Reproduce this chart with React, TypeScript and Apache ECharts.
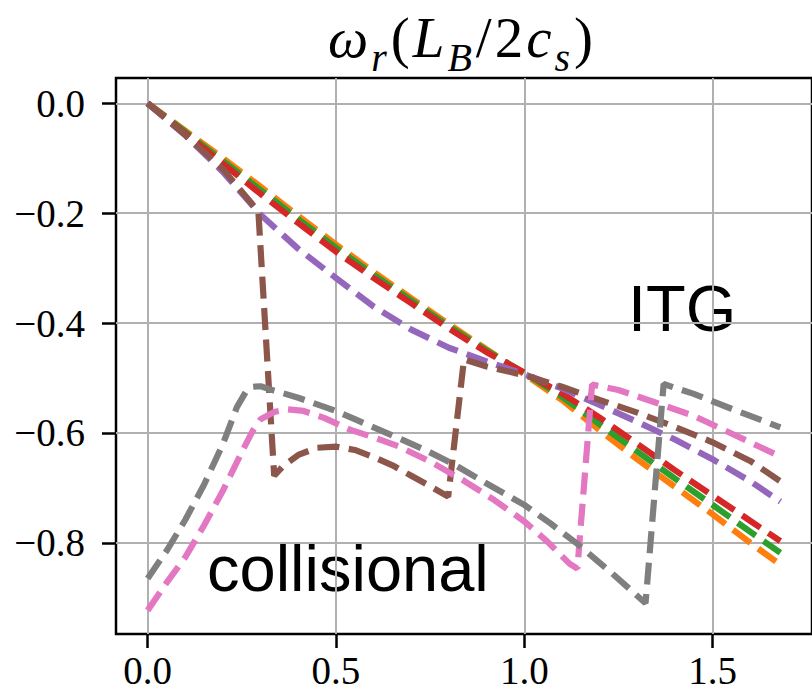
import { useEffect, useRef } from "react";
import * as echarts from "echarts";

const xTicks = [0, 0.5, 1.0, 1.5];
const yTicks = [-0.8, -0.6, -0.4, -0.2, 0];

const orange: [number, number][] = [[0,0],[0.1,-0.05],[0.2,-0.1],[0.3,-0.152],[0.4,-0.205],[0.5,-0.257],[0.6,-0.307],[0.7,-0.355],[0.8,-0.402],[0.9,-0.448],[1.0,-0.493],[1.1,-0.54],[1.2,-0.595],[1.3,-0.648],[1.4,-0.698],[1.5,-0.748],[1.6,-0.8],[1.68,-0.84]];
const green: [number, number][] = [[0,0],[0.1,-0.052],[0.2,-0.105],[0.3,-0.158],[0.4,-0.211],[0.5,-0.263],[0.6,-0.312],[0.7,-0.359],[0.8,-0.406],[0.9,-0.45],[1.0,-0.491],[1.1,-0.534],[1.2,-0.584],[1.3,-0.634],[1.4,-0.683],[1.5,-0.731],[1.6,-0.78],[1.68,-0.818]];
const red: [number, number][] = [[0,0],[0.1,-0.055],[0.2,-0.11],[0.3,-0.165],[0.4,-0.218],[0.5,-0.27],[0.6,-0.318],[0.7,-0.364],[0.8,-0.41],[0.9,-0.453],[1.0,-0.49],[1.1,-0.528],[1.2,-0.572],[1.3,-0.62],[1.4,-0.668],[1.5,-0.714],[1.6,-0.76],[1.68,-0.797]];
const purple: [number, number][] = [[0,0],[0.1,-0.058],[0.2,-0.125],[0.3,-0.203],[0.4,-0.265],[0.5,-0.318],[0.6,-0.37],[0.7,-0.412],[0.8,-0.445],[0.9,-0.47],[1.0,-0.493],[1.1,-0.519],[1.2,-0.549],[1.3,-0.58],[1.4,-0.612],[1.5,-0.648],[1.6,-0.688],[1.68,-0.725]];
const brown: [number, number][] = [[0,0],[0.1,-0.058],[0.2,-0.12],[0.294,-0.197],[0.336,-0.678],[0.36,-0.66],[0.4,-0.64],[0.45,-0.627],[0.5,-0.625],[0.55,-0.631],[0.6,-0.644],[0.65,-0.659],[0.7,-0.678],[0.75,-0.697],[0.798,-0.716],[0.84,-0.466],[0.9,-0.479],[1.0,-0.495],[1.1,-0.516],[1.2,-0.54],[1.3,-0.563],[1.4,-0.589],[1.5,-0.617],[1.6,-0.651],[1.68,-0.688]];
const pink: [number, number][] = [[0,-0.923],[0.05,-0.873],[0.1,-0.826],[0.15,-0.768],[0.2,-0.705],[0.255,-0.628],[0.28,-0.595],[0.3,-0.575],[0.336,-0.562],[0.37,-0.557],[0.414,-0.56],[0.47,-0.573],[0.537,-0.594],[0.6,-0.608],[0.665,-0.624],[0.75,-0.652],[0.842,-0.688],[0.92,-0.722],[1.0,-0.761],[1.06,-0.797],[1.12,-0.838],[1.141,-0.847],[1.18,-0.512],[1.25,-0.522],[1.35,-0.545],[1.45,-0.569],[1.55,-0.601],[1.68,-0.643]];
const gray: [number, number][] = [[0,-0.865],[0.05,-0.815],[0.1,-0.758],[0.15,-0.694],[0.2,-0.62],[0.237,-0.553],[0.26,-0.526],[0.28,-0.516],[0.3,-0.515],[0.336,-0.523],[0.4,-0.536],[0.45,-0.548],[0.5,-0.56],[0.55,-0.575],[0.6,-0.59],[0.665,-0.609],[0.74,-0.632],[0.815,-0.658],[0.9,-0.692],[1.0,-0.731],[1.07,-0.765],[1.141,-0.802],[1.229,-0.853],[1.322,-0.91],[1.37,-0.511],[1.45,-0.529],[1.55,-0.556],[1.68,-0.59]];

const seriesList: { name: string; color: string; data: [number, number][] }[] = [
  { name: "orange", color: "#ff7f0e", data: orange },
  { name: "green", color: "#2ca02c", data: green },
  { name: "red", color: "#d62728", data: red },
  { name: "purple", color: "#9467bd", data: purple },
  { name: "brown", color: "#8c564b", data: brown },
  { name: "pink", color: "#e377c2", data: pink },
  { name: "gray", color: "#7f7f7f", data: gray },
];

const fmt = (v: number) => v.toFixed(1).replace("-", "\u2212");

export default function App() {
  const ref = useRef<HTMLDivElement>(null);
  useEffect(() => {
    const chart = echarts.init(ref.current!, undefined, { renderer: "svg" });
    const labelFont = { fontFamily: "Liberation Serif", fontSize: 39, color: "#000" };
    const mainTok = { fontFamily: "Liberation Serif", fontSize: 57, lineHeight: 80, fill: "#000", padding: [0, 3, 0, 0] };
    chart.setOption({
      animation: false,
      backgroundColor: "#fff",
      grid: {
        left: 116, top: 78, width: 701, height: 556,
        show: true, borderColor: "#000", borderWidth: 2.5, backgroundColor: "transparent",
      },
      xAxis: {
        type: "value", min: -0.084, max: 1.764, splitNumber: 4,
        axisLine: { show: false, onZero: false },
        axisTick: { show: true, length: 14, lineStyle: { color: "#000", width: 2.5 }, customValues: xTicks },
        axisLabel: { ...labelFont, margin: 17, customValues: xTicks, formatter: fmt },
        splitLine: { show: true, lineStyle: { color: "#b0b0b0", width: 2 } },
      },
      yAxis: {
        type: "value", min: -0.966, max: 0.046, splitNumber: 5,
        axisLine: { show: false, onZero: false },
        axisTick: { show: true, length: 14, lineStyle: { color: "#000", width: 2.5 }, customValues: yTicks },
        axisLabel: { ...labelFont, margin: 31, customValues: yTicks, formatter: fmt },
        splitLine: { show: true, lineStyle: { color: "#b0b0b0", width: 2 } },
      },
      graphic: [
        {
          type: "text", x: 462, y: 37,
          style: {
            text: "{i|\u03c9}{s|r}{n|(}{i|L}{s|B}{n|/}{n|2}{i|c}{s|s}{n|)}",
            align: "center", verticalAlign: "middle", fill: "#000",
            rich: {
              i: { ...mainTok, fontStyle: "italic" },
              n: { ...mainTok },
              s: { fontFamily: "Liberation Serif", fontStyle: "italic", fontSize: 40, lineHeight: 44, verticalAlign: "bottom", fill: "#000", padding: [0, 4, 0, 0] },
            },
          },
        },
        { type: "text", x: 628, y: 308, style: { text: "ITG", font: '65px "Liberation Sans"', fill: "#000", verticalAlign: "middle" } },
        { type: "text", x: 207, y: 568, style: { text: "collisional", font: '65px "Liberation Sans"', fill: "#000", verticalAlign: "middle" } },
      ],
      series: seriesList.map((s) => ({
        name: s.name, type: "line", data: s.data, showSymbol: false, symbol: "none",
        clip: true,
        lineStyle: { color: s.color, width: 6.2, type: [22, 9.5] },
      })),
    });
    return () => chart.dispose();
  }, []);
  return <div ref={ref} style={{ position: "absolute", left: 0, top: 0, width: 812, height: 697 }} />;
}
